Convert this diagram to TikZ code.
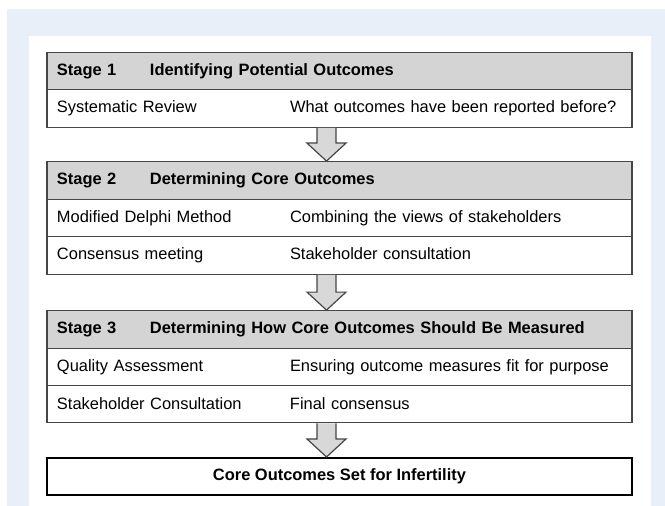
\documentclass[tikz,border=0pt]{standalone}
\usepackage{fontspec}
\setmainfont{Liberation Sans}
\usepackage{xcolor}
\usetikzlibrary{calc,positioning}

\definecolor{bgblue}{RGB}{232,239,248}
\definecolor{headgray}{RGB}{212,212,212}
\definecolor{arrowgray}{RGB}{216,216,216}
\definecolor{linegray}{RGB}{70,70,70}

\newcommand{\stagefont}{\fontsize{16.5}{19}\selectfont}
\newcommand{\stagetitle}[2]{\makebox[93bp][l]{#1}#2}
\newcommand{\steprow}[2]{\makebox[233bp][l]{#1}#2}
\newcommand{\stagearrow}[2]{%
    \draw[blockarrow]
    ($(#1.south -| ax)+(-9.5,0)$) -- ($(#2.north -| ax)+(-9.5,-18)$)
    -- ($(#2.north -| ax)+(-19.5,-18)$) -- (#2.north -| ax)
    -- ($(#2.north -| ax)+(19.5,-18)$) -- ($(#2.north -| ax)+(9.5,-18)$)
    -- ($(#1.south -| ax)+(9.5,0)$);
}

\tikzset{
    stagehead/.style={draw=linegray, fill=headgray, line width=1.3bp,
        minimum width=585bp, minimum height=37.5bp, text width=565bp,
        inner xsep=10bp, align=left, font=\stagefont\bfseries},
    stagerow/.style={draw=linegray, fill=white, line width=1.3bp,
        minimum width=585bp, minimum height=37.5bp, text width=565bp,
        inner xsep=10bp, align=left, font=\stagefont},
    finalbox/.style={draw=black, fill=white, line width=2bp,
        minimum width=585bp, minimum height=37bp, font=\stagefont\bfseries},
    blockarrow/.style={draw=linegray, fill=arrowgray, line width=1.2bp, line join=miter}
}

\begin{document}
\begin{tikzpicture}[x=1bp, y=-1bp]
                        \useasboundingbox (0,0) rectangle (665,506);
                        \fill[bgblue] (7,9.5) rectangle (665,506);
                        \fill[white] (29,36) rectangle (651,506);
                        \coordinate (ax) at (326.5,0);

                        % stage 1
                        \node[stagehead] (h1) at (339.5, 71) {\stagetitle{Stage 1}{Identifying Potential Outcomes}};
                        \node[stagerow] (r11) at (339.5, 108.5) {\steprow{Systematic Review}{What outcomes have been reported before?}};

                        % stage 2
                        \node[stagehead] (h2) at (339.5, 180.5) {\stagetitle{Stage 2}{Determining Core Outcomes}};
                        \node[stagerow] (r21) at (339.5, 218) {\steprow{Modified Delphi Method}{Combining the views of stakeholders}};
                        \node[stagerow] (r22) at (339.5, 255.5) {\steprow{Consensus meeting}{Stakeholder consultation}};

                        % stage 3
                        \node[stagehead] (h3) at (339.5, 329.5) {\stagetitle{Stage 3}{Determining How Core Outcomes Should Be Measured}};
                        \node[stagerow] (r31) at (339.5, 367) {\steprow{Quality Assessment}{Ensuring outcome measures fit for purpose}};
                        \node[stagerow] (r32) at (339.5, 404) {\steprow{Stakeholder Consultation}{Final consensus}};

                        \node[finalbox] (core) at (339.5, 476.5) {Core Outcomes Set for Infertility};

                        \stagearrow{r11}{h2}
                        \stagearrow{r22}{h3}
                        \stagearrow{r32}{core}
                    \end{tikzpicture}
\end{document}
